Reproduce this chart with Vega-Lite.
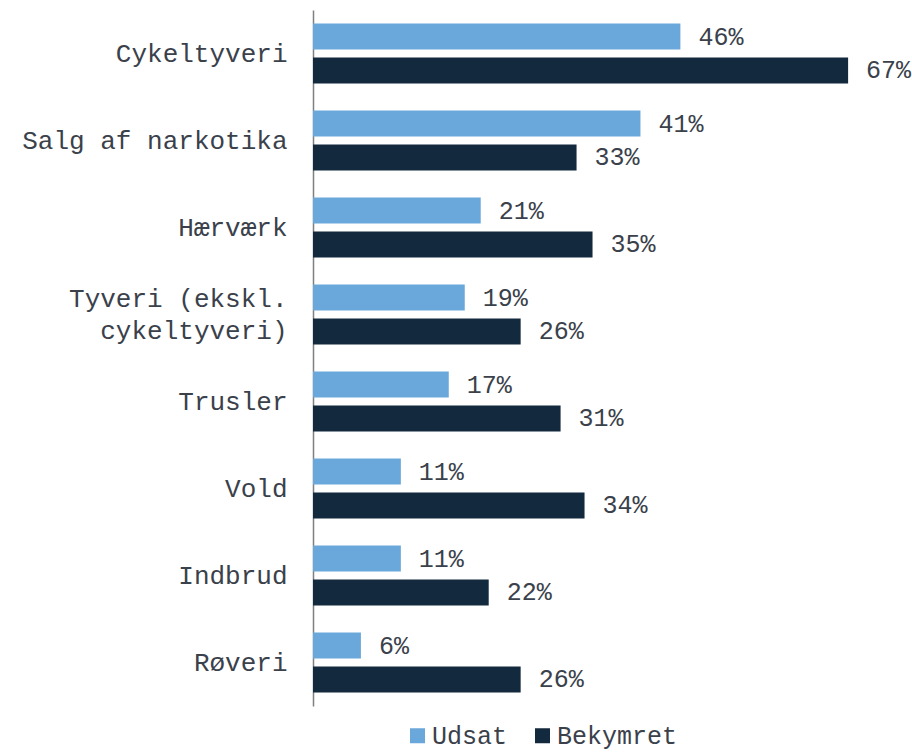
{
  "$schema": "https://vega.github.io/schema/vega-lite/v6.json",
  "width": 599,
  "height": 696,
  "autosize": {"type": "none"},
  "padding": {"left": 313, "top": 10, "right": 0, "bottom": 48},
  "background": "white",
  "config": {
    "view": {"stroke": null},
    "font": "Liberation Mono",
    "text": {"font": "Liberation Mono"}
  },
  "data": {
    "values": [
      {"kategori": "Cykeltyveri", "serie": "Udsat", "andel": 0.46},
      {"kategori": "Cykeltyveri", "serie": "Bekymret", "andel": 0.67},
      {"kategori": "Salg af narkotika", "serie": "Udsat", "andel": 0.41},
      {"kategori": "Salg af narkotika", "serie": "Bekymret", "andel": 0.33},
      {"kategori": "Hærværk", "serie": "Udsat", "andel": 0.21},
      {"kategori": "Hærværk", "serie": "Bekymret", "andel": 0.35},
      {"kategori": "Tyveri (ekskl.|cykeltyveri)\u00a0", "serie": "Udsat", "andel": 0.19},
      {"kategori": "Tyveri (ekskl.|cykeltyveri)\u00a0", "serie": "Bekymret", "andel": 0.26},
      {"kategori": "Trusler", "serie": "Udsat", "andel": 0.17},
      {"kategori": "Trusler", "serie": "Bekymret", "andel": 0.31},
      {"kategori": "Vold", "serie": "Udsat", "andel": 0.11},
      {"kategori": "Vold", "serie": "Bekymret", "andel": 0.34},
      {"kategori": "Indbrud", "serie": "Udsat", "andel": 0.11},
      {"kategori": "Indbrud", "serie": "Bekymret", "andel": 0.22},
      {"kategori": "Røveri", "serie": "Udsat", "andel": 0.06},
      {"kategori": "Røveri", "serie": "Bekymret", "andel": 0.26}
    ]
  },
  "encoding": {
    "y": {
      "field": "kategori",
      "type": "nominal",
      "sort": null,
      "scale": {"paddingInner": 0, "paddingOuter": 0},
      "axis": {
        "title": null,
        "ticks": false,
        "labelPadding": 26,
        "labelLimit": 500,
        "labelFont": "Liberation Mono",
        "labelFontSize": 26,
        "labelColor": "#3a414b",
        "labelLineHeight": 32,
        "labelExpr": "split(datum.label, '|')",
        "labelOffset": {"condition": {"test": "indexof(datum.value, '|') >= 0", "value": -16}, "value": 0},
        "domainColor": "#7f8080",
        "domainWidth": 1.5,
        "grid": false
      }
    },
    "yOffset": {
      "field": "serie",
      "type": "nominal",
      "sort": ["Udsat", "Bekymret"],
      "scale": {"paddingInner": 0.235, "paddingOuter": 0.397}
    },
    "x": {
      "field": "andel",
      "type": "quantitative",
      "scale": {"domain": [0, 0.75], "nice": false},
      "axis": null
    }
  },
  "layer": [
    {
      "mark": {"type": "bar"},
      "encoding": {
        "color": {
          "field": "serie",
          "type": "nominal",
          "sort": ["Udsat", "Bekymret"],
          "scale": {"domain": ["Udsat", "Bekymret"], "range": ["#6aa7db", "#13293d"]},
          "legend": {
            "title": null,
            "orient": "none",
            "direction": "horizontal",
            "legendX": 92,
            "legendY": 713,
            "symbolType": "square",
            "symbolSize": 225,
            "symbolStrokeWidth": 0,
            "labelFont": "Liberation Mono",
            "labelFontSize": 25,
            "labelColor": "#3a414b",
            "labelOffset": 2,
            "columnPadding": 22
          }
        }
      }
    },
    {
      "mark": {"type": "text", "align": "left", "baseline": "middle", "dx": 18, "fontSize": 25, "font": "Liberation Mono", "color": "#3a414b"},
      "encoding": {
        "text": {"field": "andel", "type": "quantitative", "format": ".0%"}
      }
    }
  ]
}
